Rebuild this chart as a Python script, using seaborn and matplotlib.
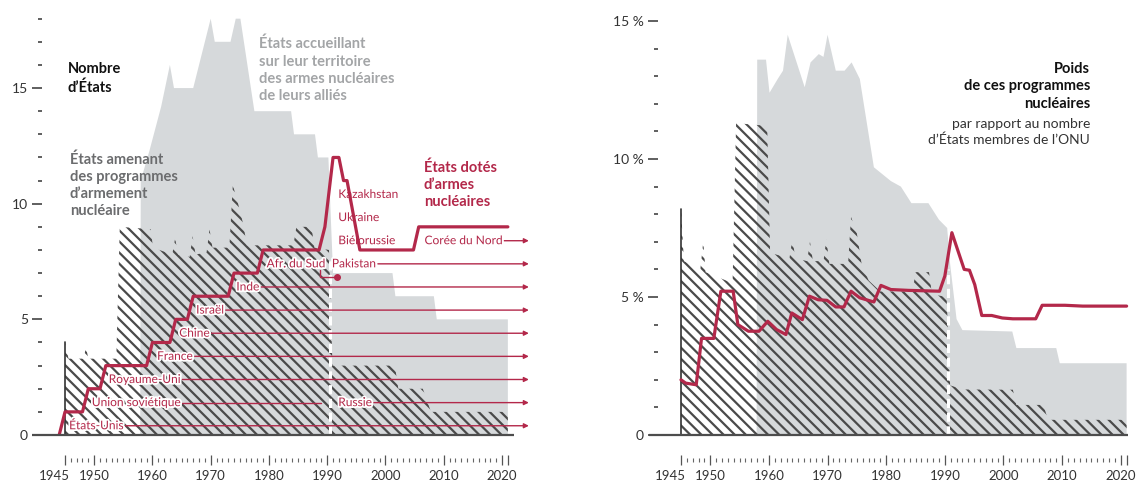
import matplotlib
matplotlib.use("Agg")
import matplotlib.pyplot as plt
import matplotlib.patheffects as pe
from matplotlib.ticker import FixedLocator
from matplotlib.transforms import ScaledTranslation
import seaborn as sns

# ---------------- data : left panel (number of states) ----------------
host_years = [1957.9, 1958.0, 1959.5, 1961.5, 1963.0, 1963.7, 1967.0, 1970.0, 1970.7, 1973.4,
              1974.3, 1975.1, 1977.5, 1983.8, 1984.3, 1987.9, 1988.4, 1990.2, 1991.0, 2001.2,
              2001.7, 2008.3, 2008.8, 2021.0]
host_counts = [0, 11, 12.3, 14.2, 16, 15, 15, 18, 17, 17,
               18, 18, 14, 14, 13, 13, 12, 12, 7, 7,
               6, 6, 5, 5]

prog_years = [1945.0, 1945.6, 1948.2, 1948.6, 1949.0, 1953.8, 1954.4, 1959.7, 1960.1, 1963.4,
              1963.9, 1964.4, 1966.4, 1966.9, 1967.4, 1969.3, 1969.8, 1970.3, 1973.2, 1973.8,
              1974.6, 1975.6, 1976.2, 1984.2, 1984.7, 1987.3, 1987.8, 1990.3, 1990.9, 2001.6,
              2002.2, 2006.4, 2007.8, 2021.0]
prog_counts = [4.0, 3.3, 3.3, 3.8, 3.3, 3.3, 9.0, 8.9, 8.1, 7.8,
               8.5, 7.8, 7.7, 8.6, 7.8, 7.9, 8.9, 8.1, 8.1, 10.8,
               10.1, 9.1, 8.2, 8.2, 9.0, 9.0, 8.1, 8.0, 3.0, 3.0,
               2.0, 2.0, 1.0, 1.0]

armed_years = [1944.0, 1945.0, 1948.0, 1949.0, 1951.0, 1952.0, 1959.0, 1960.0, 1963.0, 1964.0,
               1966.0, 1967.0, 1973.0, 1974.0, 1978.0, 1979.0, 1988.6, 1989.6, 1991.0, 1992.0,
               1992.8, 1993.4, 1995.6, 2004.8, 2005.7, 2021.0]
armed_counts = [0, 1, 1, 2, 2, 3, 3, 4, 4, 5,
                5, 6, 6, 7, 7, 8, 8, 9, 12, 12,
                11, 11, 8, 8, 9, 9]

# state labels on the left panel
state_names = ["États-Unis", "Union soviétique", "Royaume-Uni", "France", "Chine", "Israël",
               "Inde", "Afr. du Sud", "Pakistan", "Russie", "Biélorussie", "Ukraine",
               "Kazakhstan", "Corée du Nord"]
state_label_years = [1945.7, 1949.6, 1952.5, 1960.8, 1964.6, 1967.5,
                     1974.4, 1979.6, 1990.8, 1991.9, 1991.9, 1991.9,
                     1991.9, 2006.7]
state_rows = [0.4, 1.4, 2.4, 3.4, 4.4, 5.4,
              6.4, 7.4, 7.4, 1.4, 8.4, 9.4,
              10.4, 8.4]
state_line_kind = ["arrow", "segment", "arrow", "arrow", "arrow", "arrow",
                   "arrow", "hook", "arrow", "arrow", "none", "none",
                   "none", "arrow"]
ussr_segment_end = 1989.0
sa_hook_x = [1988.8, 1988.8, 1991.6]
sa_hook_y = [7.15, 6.85, 6.85]
arrow_end_year = 2024.6

# ---------------- data : right panel (% of UN member states) ----------------
host_pct_years = [1957.9, 1958.0, 1959.5, 1960.1, 1961.5, 1962.4, 1963.2, 1966.1, 1967.1, 1968.5,
                  1969.3, 1970.0, 1971.4, 1972.9, 1974.1, 1975.5, 1977.9, 1980.8, 1982.5, 1984.3,
                  1987.2, 1989.0, 1990.4, 1990.9, 1992.0, 1993.0, 2001.5, 2002.2, 2009.0, 2009.6,
                  2021.0]
host_pct = [0, 13.6, 13.6, 12.4, 12.9, 13.2, 14.5, 12.6, 13.5, 13.8,
            13.7, 14.5, 13.2, 13.2, 13.5, 12.9, 9.7, 9.2, 9.0, 8.4,
            8.4, 7.8, 7.5, 6.2, 4.2, 3.8, 3.75, 3.15, 3.15, 2.6,
            2.6]

prog_pct_years = [1945.0, 1945.5, 1948.3, 1948.8, 1949.2, 1953.8, 1954.4, 1959.7, 1960.2, 1963.5,
                  1964.0, 1964.5, 1966.5, 1967.0, 1967.5, 1969.3, 1969.8, 1970.3, 1973.5, 1974.0,
                  1975.0, 1975.8, 1977.0, 1979.0, 1984.5, 1985.0, 1987.3, 1987.8, 1990.3, 1990.9,
                  1993.0, 2001.6, 2002.2, 2006.8, 2007.6, 2021.0]
prog_pct = [8.2, 6.3, 6.0, 7.0, 5.9, 5.5, 11.3, 11.2, 6.6, 6.4,
            7.1, 6.4, 6.3, 7.0, 6.3, 6.3, 7.1, 6.2, 6.2, 7.9,
            7.3, 6.2, 5.6, 5.2, 5.2, 5.9, 5.9, 5.1, 5.0, 1.8,
            1.65, 1.64, 1.09, 1.09, 0.55, 0.55]

armed_pct_years = [1945.0, 1945.8, 1947.6, 1948.5, 1950.6, 1951.8, 1953.9, 1954.7, 1956.5, 1958.3,
                   1959.8, 1961.3, 1962.9, 1963.9, 1965.7, 1966.9, 1968.4, 1969.9, 1971.4, 1972.8,
                   1974.0, 1975.5, 1977.9, 1979.1, 1980.8, 1983.8, 1989.1, 1990.0, 1991.2, 1993.3,
                   1994.2, 1995.1, 1996.3, 1998.0, 1999.8, 2001.6, 2005.5, 2006.6, 2010.5, 2013.5,
                   2021.0]
armed_pct = [2.0, 1.88, 1.82, 3.5, 3.5, 5.21, 5.21, 4.0, 3.76, 3.76,
             4.12, 3.82, 3.64, 4.42, 4.18, 5.03, 4.9, 4.88, 4.64, 4.64,
             5.21, 4.97, 4.82, 5.42, 5.27, 5.24, 5.21, 5.76, 7.33, 6.0,
             5.97, 5.45, 4.33, 4.33, 4.24, 4.21, 4.21, 4.7, 4.7, 4.67,
             4.67]

# ---------------- axis tick texts ----------------
decade_ticks = [1945, 1950, 1960, 1970, 1980, 1990, 2000, 2010, 2020, 2021]
decade_labels = ["1945", "1950", "1960", "1970", "1980", "1990", "2000", "2010", "2020", ""]
left_yticks = [0, 5, 10, 15]
left_ylabels = ["0", "5", "10", "15"]
right_yticks = [0, 5, 10, 15]
right_ylabels = ["0", "5 %", "10 %", "15 %"]

# ---------------- style ----------------
sns.set_theme(style="white")
plt.rcParams["font.family"] = ["Lato", "DejaVu Sans"]
plt.rcParams["hatch.linewidth"] = 1.6
plt.rcParams["hatch.color"] = "#4a4a4a"

RED = "#b3284a"
GRAY_FILL = "#d6d9db"
HATCH_COL = "#4a4a4a"
AXIS_COL = "#4d4d4d"
TXT = "#333333"

W, H = 1136, 487
fig = plt.figure(figsize=(W / 100, H / 100), dpi=100)

axL = fig.add_axes([42 / W, 52 / H, 488 / W, 430.2 / H])
axR = fig.add_axes([658 / W, 52 / H, 474 / W, 427.8 / H])
axL.set_xlim(1941.05, 2024.80)
axL.set_ylim(0, 18.6)
axR.set_xlim(1941.08, 2021.92)
axR.set_ylim(0, 15.5)


def style_axis(ax, yt, ylab, base_x):
    for s in ["left", "right", "top"]:
        ax.spines[s].set_visible(False)
    ax.spines["bottom"].set_position(("outward", 18))
    ax.spines["bottom"].set_visible(False)
    ax.set_facecolor("none")
    ax.grid(False)
    ax.xaxis.set_major_locator(FixedLocator(decade_ticks))
    ax.set_xticklabels(decade_labels)
    ax.xaxis.set_minor_locator(FixedLocator(list(range(1945, 2022))))
    ax.tick_params(axis="x", which="major", direction="inout", length=7, width=0.9,
                   color="#555555", labelsize=9.5, labelcolor=TXT, pad=4, bottom=True)
    ax.tick_params(axis="x", which="minor", direction="inout", length=3.5, width=0.8,
                   color="#666666", bottom=True)
    ax.yaxis.set_major_locator(FixedLocator(yt))
    ax.set_yticklabels(ylab)
    ax.yaxis.set_minor_locator(FixedLocator([v for v in range(0, 19) if v not in yt]))
    ax.tick_params(axis="y", which="major", direction="out", length=7, width=1.2,
                   color="#444444", labelsize=10, labelcolor=TXT, pad=3, left=True)
    ax.tick_params(axis="y", which="minor", direction="out", length=3, width=1.2,
                   color="#444444", left=True)
    ax.set_xlabel("")
    ax.set_ylabel("")
    # baseline
    ax.plot(base_x, [0, 0], color=AXIS_COL, lw=1.6, clip_on=False, zorder=8,
            solid_capstyle="butt")
    # shift the "1945" label slightly left
    lab = ax.xaxis.get_major_ticks()[0].label1
    lab.set_transform(lab.get_transform() + ScaledTranslation(-8 / 72, 0, fig.dpi_scale_trans))


def draw_areas(ax, hx, hy, px, py, vline_top, white_top):
    ax.fill_between(hx, 0, hy, facecolor=GRAY_FILL, edgecolor="none", lw=0, zorder=1)
    ax.fill_between(px, 0, py, facecolor="none", edgecolor=HATCH_COL, hatch="\\\\\\",
                    lw=0, zorder=2)
    ax.plot([1945, 1945], [0, vline_top], color="#333333", lw=1.2, zorder=3)
    ax.plot([1990.5, 1990.5], [0, white_top], color="white", lw=2.2,
            ls=(0, (3, 1.5)), zorder=3)


# ---------------- left panel ----------------
draw_areas(axL, host_years, host_counts, prog_years, prog_counts, 4.0, 7.6)
style_axis(axL, left_yticks, left_ylabels, [1939.34, 2022.05])

halo = [pe.withStroke(linewidth=2.6, foreground="white")]
texts = []
for name, x, y in zip(state_names, state_label_years, state_rows):
    t = axL.text(x, y, name, color=RED, fontsize=8.6, ha="left", va="center",
                 zorder=6, path_effects=halo)
    texts.append(t)

fig.canvas.draw()
renderer = fig.canvas.get_renderer()
inv = axL.transData.inverted()
for t, kind, y in zip(texts, state_line_kind, state_rows):
    bb = t.get_window_extent(renderer)
    x_end = inv.transform((bb.x1, bb.y0))[0] + 0.3
    if kind == "arrow":
        axL.annotate("", xy=(arrow_end_year, y), xytext=(x_end, y),
                     arrowprops=dict(arrowstyle="-|>", color=RED, lw=1.0,
                                     mutation_scale=7, shrinkA=0, shrinkB=0),
                     zorder=4)
    elif kind == "segment":
        axL.plot([x_end, ussr_segment_end], [y, y], color=RED, lw=1.0, zorder=4)
axL.plot(sa_hook_x, sa_hook_y, color=RED, lw=1.0, zorder=4)
axL.plot([sa_hook_x[-1]], [sa_hook_y[-1]], marker="o", ms=4, color=RED, zorder=4)

sns.lineplot(x=armed_years, y=armed_counts, ax=axL, color=RED, lw=2.3,
             estimator=None, sort=False, zorder=7)

# ---------------- right panel ----------------
draw_areas(axR, host_pct_years, host_pct, prog_pct_years, prog_pct, 8.2, 6.0)
style_axis(axR, right_yticks, right_ylabels, [1939.54, 2021.24])
sns.lineplot(x=armed_pct_years, y=armed_pct, ax=axR, color=RED, lw=2.3,
             estimator=None, sort=False, zorder=7)

# ---------------- annotations ----------------
def ftext(x, y, s, **kw):
    fig.text(x / W, 1 - y / H, s, **kw)

ftext(68, 62, "Nombre\nd’États", color="#111111", fontsize=10.5, fontweight="bold",
      va="top", ha="left", linespacing=1.35)
ftext(70, 152, "États amenant\ndes programmes\nd’armement\nnucléaire", color="#6b6c6e",
      fontsize=10.5, fontweight="bold", va="top", ha="left", linespacing=1.3)
ftext(259, 37, "États accueillant\nsur leur territoire\ndes armes nucléaires\nde leurs alliés",
      color="#a3a5a7", fontsize=10.5, fontweight="bold", va="top", ha="left", linespacing=1.3)
ftext(424, 160, "États dotés\nd’armes\nnucléaires", color=RED, fontsize=10.5,
      fontweight="bold", va="top", ha="left", linespacing=1.3)

ftext(1090, 62, "Poids\nde ces programmes\nnucléaires", color="#111111", fontsize=10.5,
      fontweight="bold", va="top", ha="right", linespacing=1.3)
ftext(1090, 118, "par rapport au nombre\nd’États membres de l’ONU", color=TXT,
      fontsize=10, va="top", ha="right", linespacing=1.3)

fig.savefig("out.png", dpi=100, facecolor="white")
